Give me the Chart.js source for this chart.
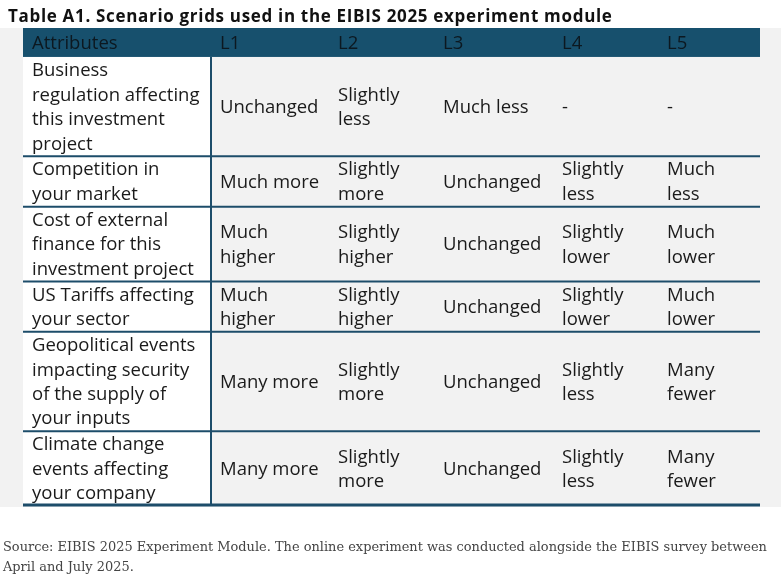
<!DOCTYPE html>
<html>
<head>
<meta charset="utf-8">
<script src="https://cdn.jsdelivr.net/npm/chart.js@4.4.1/dist/chart.umd.min.js"></script>
<style>
  body { margin: 0; background: #fff; }
  #wrap { width: 781px; height: 580px; }
</style>
</head>
<body>
<div id="wrap"><canvas id="tabla"></canvas></div>
<script>
// contenido de la tabla
const titulo = 'Table A1. Scenario grids used in the EIBIS 2025 experiment module';
const fuente = ['Source: EIBIS 2025 Experiment Module. The online experiment was conducted alongside the EIBIS survey between',
                'April and July 2025.'];
const columnas = ['Attributes', 'L1', 'L2', 'L3', 'L4', 'L5'];
const atributos = [
  'Business\nregulation affecting\nthis investment\nproject',
  'Competition in\nyour market',
  'Cost of external\nfinance for this\ninvestment project',
  'US Tariffs affecting\nyour sector',
  'Geopolitical events\nimpacting security\nof the supply of\nyour inputs',
  'Climate change\nevents affecting\nyour company'
];
const nivelL1 = ['Unchanged', 'Much more', 'Much\nhigher', 'Much\nhigher', 'Many more', 'Many more'];
const nivelL2 = ['Slightly\nless', 'Slightly\nmore', 'Slightly\nhigher', 'Slightly\nhigher', 'Slightly\nmore', 'Slightly\nmore'];
const nivelL3 = ['Much less', 'Unchanged', 'Unchanged', 'Unchanged', 'Unchanged', 'Unchanged'];
const nivelL4 = ['-', 'Slightly\nless', 'Slightly\nlower', 'Slightly\nlower', 'Slightly\nless', 'Slightly\nless'];
const nivelL5 = ['-', 'Much\nless', 'Much\nlower', 'Much\nlower', 'Many\nfewer', 'Many\nfewer'];

// medidas (en unidades de las escalas)
const anchoCol = [188, 118, 105, 119, 105, 102];
const altoCab = 29;
const altoLinea = 24.5;
const relleno = 9;

const niveles = [nivelL1, nivelL2, nivelL3, nivelL4, nivelL5];
const filas = atributos.map((a, i) => [a].concat(niveles.map(n => n[i])));
const altoFila = filas.map(f => Math.max(...f.map(t => t.split('\n').length)) * altoLinea + 1.5);

const inicioCol = [0];
anchoCol.forEach((w, i) => inicioCol.push(inicioCol[i] + w));
const inicioFila = [altoCab];
altoFila.forEach((h, i) => inicioFila.push(inicioFila[i] + h));
const totalX = inicioCol[inicioCol.length - 1];
const totalY = inicioFila[inicioFila.length - 1];

const azul = '#17506d';
const linea = '#1d4d6a';
const fuenteSans = '"Open Sans", sans-serif';

const dibujaTabla = {
  id: 'dibujaTabla',
  afterDraw(chart) {
    const ctx = chart.ctx;
    const x = chart.scales.x, y = chart.scales.y;
    const px = v => x.getPixelForValue(v);
    const py = v => y.getPixelForValue(v);
    ctx.save();

    // fondo gris
    ctx.fillStyle = '#f2f2f2';
    ctx.fillRect(0, py(0), chart.width, py(totalY) - py(0) + 1);
    // columna de atributos en blanco
    ctx.fillStyle = '#ffffff';
    ctx.fillRect(px(0), py(altoCab), px(anchoCol[0]) - px(0), py(totalY) - py(altoCab));
    // cabecera
    ctx.fillStyle = azul;
    ctx.fillRect(px(0), py(0), px(totalX) - px(0), py(altoCab) - py(0));

    ctx.textBaseline = 'middle';
    ctx.textAlign = 'left';
    ctx.font = '18.5px ' + fuenteSans;
    ctx.fillStyle = '#0c1820';
    columnas.forEach((c, i) => ctx.fillText(c, px(inicioCol[i] + relleno), py(altoCab / 2) + 1));

    // celdas
    ctx.fillStyle = '#1a1a1a';
    filas.forEach((fila, r) => {
      const centro = inicioFila[r] + altoFila[r] / 2;
      fila.forEach((texto, c) => {
        const lineas = texto.split('\n');
        lineas.forEach((l, k) => {
          const yy = centro + (k - (lineas.length - 1) / 2) * altoLinea;
          ctx.fillText(l, px(inicioCol[c] + relleno), py(yy) + 1);
        });
      });
    });

    // lineas
    ctx.strokeStyle = linea;
    ctx.lineWidth = 2;
    for (let r = 1; r < filas.length; r++) {
      ctx.beginPath();
      ctx.moveTo(px(0), py(inicioFila[r]));
      ctx.lineTo(px(totalX), py(inicioFila[r]));
      ctx.stroke();
    }
    ctx.beginPath();
    ctx.moveTo(px(anchoCol[0]), py(altoCab));
    ctx.lineTo(px(anchoCol[0]), py(totalY));
    ctx.stroke();
    ctx.lineWidth = 3;
    ctx.beginPath();
    ctx.moveTo(px(0), py(totalY) - 1);
    ctx.lineTo(px(totalX), py(totalY) - 1);
    ctx.stroke();

    // titulo y fuente
    ctx.textBaseline = 'alphabetic';
    ctx.fillStyle = '#111';
    ctx.font = 'bold 17px "Open Sans", sans-serif';
    ctx.letterSpacing = '0.68px';
    ctx.fillText(titulo, 8, py(0) - 6);
    ctx.letterSpacing = '0px';
    ctx.fillStyle = '#444';
    ctx.font = '12.95px "DejaVu Serif", serif';
    fuente.forEach((t, i) => ctx.fillText(t, 3, py(totalY) + 45 + i * 20));
    ctx.restore();
  }
};

new Chart(document.getElementById('tabla'), {
  type: 'scatter',
  data: { datasets: [] },
  options: {
    responsive: true,
    maintainAspectRatio: false,
    animation: false,
    layout: { padding: { left: 23, right: 21, top: 28, bottom: 74 } },
    scales: {
      x: { type: 'linear', min: 0, max: totalX, display: false },
      y: { type: 'linear', min: 0, max: totalY, reverse: true, display: false }
    },
    plugins: {
      legend: { display: false },
      title: { display: false },
      tooltip: { enabled: false }
    }
  },
  plugins: [dibujaTabla]
});
</script>
</body>
</html>
